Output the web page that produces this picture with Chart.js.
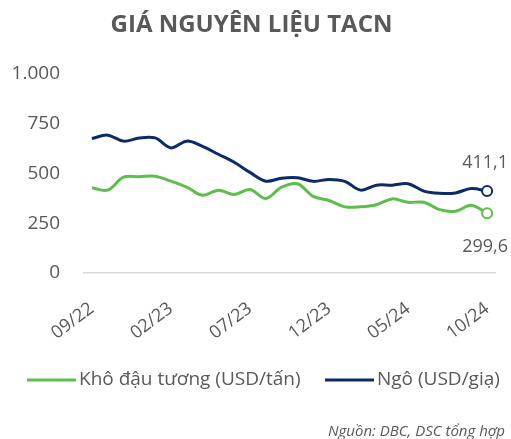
<!DOCTYPE html>
<html>
<head>
<meta charset="utf-8">
<script src="https://cdn.jsdelivr.net/npm/chart.js@4.4.0/dist/chart.umd.min.js"></script>
<style>
  html, body { margin: 0; padding: 0; background: #fff; }
  #wrap { width: 511px; height: 439px; position: relative; }
</style>
</head>
<body>
<div id="wrap"><canvas id="tacnChart"></canvas></div>
<script>
// ── Data ──────────────────────────────────────────────────────
const months = [
  '09/22','10/22','11/22','12/22','01/23','02/23','03/23','04/23','05/23','06/23',
  '07/23','08/23','09/23','10/23','11/23','12/23','01/24','02/24','03/24','04/24',
  '05/24','06/24','07/24','08/24','09/24','10/24'
];
const soyMeal = [428, 416, 481, 483, 486, 461, 431, 390, 416, 394,
                 419, 374, 431, 448, 385, 364, 332, 332, 343, 372,
                 355, 355, 318, 310, 340, 299.6];
const corn    = [675, 692, 662, 678, 678, 628, 662, 636, 596, 556,
                 505, 461, 476, 478, 460, 470, 460, 416, 441, 441,
                 448, 411, 400, 402, 424, 411.1];
const yTicks  = [0, 250, 500, 750, 1000];

const GREEN = '#5cbf4b';
const NAVY  = '#0d2a6b';
const GREY  = '#595959';
const FONT  = "'Open Sans', 'DejaVu Sans', sans-serif";

const fmtVN = v => v.toLocaleString('vi-VN', { maximumFractionDigits: 1 });
const last  = months.length - 1;

// end-point value labels, legend row and source note
const extrasPlugin = {
  id: 'extras',
  afterDatasetsDraw(chart) {
    const { ctx } = chart;
    ctx.save();
    ctx.font = `18px ${FONT}`;
    ctx.fillStyle = GREY;
    ctx.textAlign = 'center';
    ctx.textBaseline = 'middle';
    const pCorn = chart.getDatasetMeta(1).data[last];
    const pSoy  = chart.getDatasetMeta(0).data[last];
    ctx.fillText(fmtVN(corn[last]), pCorn.x - 2, pCorn.y - 28);
    ctx.fillText(fmtVN(soyMeal[last]), pSoy.x - 2, pSoy.y + 34);

    // legend: line sample + label
    ctx.font = `19px ${FONT}`;
    ctx.textAlign = 'left';
    const legendY = 380;
    const starts = [27, 325];
    chart.data.datasets.forEach((d, i) => {
      const x = starts[i];
      ctx.strokeStyle = d.borderColor;
      ctx.lineWidth = 3;
      ctx.beginPath();
      ctx.moveTo(x, legendY);
      ctx.lineTo(x + 49, legendY);
      ctx.stroke();
      ctx.fillText(d.label, x + 52, legendY);
    });

    ctx.font = `italic 15px ${FONT}`;
    ctx.textAlign = 'right';
    ctx.fillText('Nguồn: DBC, DSC tổng hợp', 505, 432);
    ctx.restore();
  }
};

new Chart(document.getElementById('tacnChart'), {
  type: 'line',
  data: {
    labels: months,
    datasets: [
      {
        label: 'Khô đậu tương (USD/tấn)',
        data: soyMeal,
        borderColor: GREEN,
        backgroundColor: GREEN,
        borderWidth: 3, tension: 0.35,
        pointRadius: c => c.dataIndex === last ? 5 : 0,
        pointBackgroundColor: '#fff', pointBorderColor: GREEN, pointBorderWidth: 2
      },
      {
        label: 'Ngô (USD/giạ)',
        data: corn,
        borderColor: NAVY,
        backgroundColor: NAVY,
        borderWidth: 3, tension: 0.35,
        pointRadius: c => c.dataIndex === last ? 5 : 0,
        pointBackgroundColor: '#fff', pointBorderColor: NAVY, pointBorderWidth: 2
      }
    ]
  },
  options: {
    responsive: true,
    maintainAspectRatio: false,
    animation: false,
    layout: { padding: { left: 8, right: 16, top: 6, bottom: 79 } },
    plugins: {
      title: {
        display: true,
        text: 'GIÁ NGUYÊN LIỆU TACN',
        color: GREY,
        font: { family: FONT, size: 24, weight: 'bold' },
        padding: { top: 5, bottom: 34 }
      },
      legend: { display: false },
      tooltip: { enabled: false }
    },
    scales: {
      x: {
        offset: true,
        grid: { display: false, drawTicks: false },
        border: { color: '#d9d9d9', width: 1.5 },
        afterFit: axis => { axis.height = 87; axis.paddingLeft = 0; axis.paddingRight = 0; },
        ticks: {
          color: GREY,
          padding: 25,
          font: { family: FONT, size: 18 },
          autoSkip: false,
          maxRotation: 37, minRotation: 37,
          callback: (v, i) => i % 5 === 0 ? months[i] : ''
        }
      },
      y: {
        min: 0, max: 1000,
        afterBuildTicks: axis => { axis.ticks = yTicks.map(v => ({ value: v })); },
        afterFit: axis => { axis.width = 76; },
        grid: { display: false, drawTicks: false },
        border: { display: false },
        ticks: {
          color: GREY,
          padding: 24,
          font: { family: FONT, size: 19 },
          callback: v => fmtVN(v)
        }
      }
    }
  },
  plugins: [extrasPlugin]
});
</script>
</body>
</html>
